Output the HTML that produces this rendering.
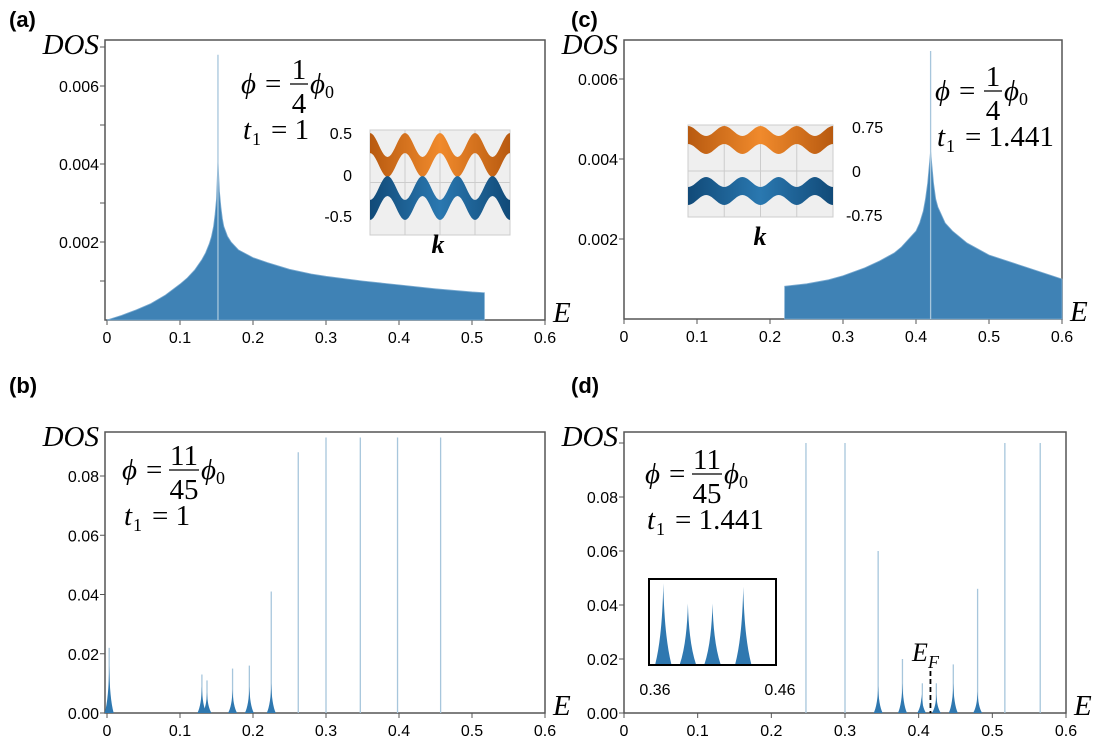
<!DOCTYPE html>
<html><head><meta charset="utf-8">
<style>
body{margin:0;background:#fff;}
svg text{font-family:"Liberation Sans",sans-serif;}
.lab{font-family:"Liberation Sans",sans-serif;font-size:16px;fill:#000;}
.pl{font-family:"Liberation Sans",sans-serif;font-size:22px;font-weight:bold;fill:#000;}
.mth{font-family:"Liberation Serif",serif;font-style:italic;font-size:29px;fill:#000;}
.mthu{font-family:"Liberation Serif",serif;font-size:29px;fill:#000;}
</style></head>
<body>
<svg id="fig" width="1099" height="747" viewBox="0 0 1099 747" xmlns="http://www.w3.org/2000/svg">
<defs>
<linearGradient id="og" x1="0" y1="0" x2="1" y2="0">
<stop offset="0" stop-color="#b85a10"/><stop offset="0.5" stop-color="#f08a2c"/><stop offset="1" stop-color="#b85a10"/></linearGradient>
<linearGradient id="bg" x1="0" y1="0" x2="1" y2="0">
<stop offset="0" stop-color="#114a78"/><stop offset="0.5" stop-color="#2a78b0"/><stop offset="1" stop-color="#114a78"/></linearGradient>
</defs>
<g id="layer"></g>
</svg>
<script>
// Panel (a): phi = 1/4, t1 = 1
const aE   = [0,0.02,0.04,0.06,0.08,0.1,0.11,0.12,0.13,0.135,0.14,0.143,0.146,0.148,0.15,0.151,0.152,0.153,0.154,0.156,0.158,0.16,0.165,0.17,0.18,0.19,0.2,0.22,0.25,0.28,0.3,0.35,0.4,0.45,0.5,0.517];
const aDOS = [0,0.00012,0.00026,0.00042,0.00064,0.00092,0.00108,0.00128,0.00155,0.00172,0.00195,0.00213,0.0024,0.0027,0.0031,0.0036,0.0041,0.0037,0.0033,0.0029,0.0026,0.0024,0.00215,0.002,0.0018,0.0017,0.0016,0.00147,0.0013,0.00118,0.00112,0.001,0.0009,0.0008,0.00072,0.0007];
const aSpikeE = [0.152];
const aSpikeH = [0.0068];
// Panel (c): phi = 1/4, t1 = 1.441
const cE   = [0.22,0.2201,0.25,0.28,0.3,0.33,0.35,0.37,0.38,0.39,0.4,0.405,0.41,0.413,0.416,0.418,0.42,0.422,0.424,0.427,0.43,0.435,0.44,0.45,0.47,0.5,0.55,0.6];
const cDOS = [0,0.00082,0.00088,0.00098,0.00108,0.00128,0.00145,0.00165,0.0018,0.002,0.0022,0.0024,0.0027,0.003,0.0034,0.0038,0.0042,0.0038,0.0034,0.003,0.0028,0.0026,0.0024,0.0022,0.0019,0.0016,0.0013,0.001];
const cSpikeE = [0.42];
const cSpikeH = [0.0067];
// Panel (b): phi = 11/45, t1 = 1
const bSpikeE = [0.225,0.262,0.3,0.347,0.398,0.457,0.003,0.13,0.137,0.172,0.195];
const bSpikeH = [0.041,0.088,0.093,0.093,0.093,0.093,0.022,0.013,0.011,0.015,0.016];
const bBumpE  = [0.003,0.13,0.137,0.172,0.195,0.225];
const bBumpH  = [0.016,0.009,0.007,0.008,0.009,0.01];
// Panel (d): phi = 11/45, t1 = 1.441
const dSpikeE = [0.247,0.3,0.345,0.378,0.405,0.424,0.447,0.48,0.517,0.565];
const dSpikeH = [0.1,0.1,0.06,0.02,0.011,0.011,0.018,0.046,0.1,0.1];
const dBumpE  = [0.345,0.378,0.404,0.424,0.447,0.48];
const dBumpH  = [0.01,0.011,0.007,0.007,0.011,0.008];
const insetE  = [0.37,0.39,0.41,0.435];
const insetH  = [0.048,0.036,0.036,0.046];

const NS="http://www.w3.org/2000/svg";
const L=document.getElementById('layer');
function el(tag,attrs,parent){const e=document.createElementNS(NS,tag);for(const k in attrs)e.setAttribute(k,attrs[k]);(parent||L).appendChild(e);return e;}
function txt(x,y,s,cls,anchor,style){const t=el('text',{x:x,y:y,class:cls,'text-anchor':anchor||'start'});if(style)t.setAttribute('style',style);t.textContent=s;return t;}

function panel(cfg){
  const g=el('g',{});
  
  
  const X=e=>cfg.x0+(e/0.6)*(cfg.x1-cfg.x0);
  const Y=v=>cfg.y0-(v/cfg.ymax)*(cfg.y0-cfg.ytop);
  cfg.X=X;cfg.Y=Y;cfg.g=g;
  const box=el('rect',{x:cfg.bx,y:cfg.by,width:cfg.x1-cfg.bx,height:cfg.y0-cfg.by,fill:'none',stroke:'#555','stroke-width':1.5},g);
  
  for(let i=0;i<=6;i++){const v=i/10;const x=X(v);
    el('line',{x1:x,y1:cfg.y0,x2:x,y2:cfg.y0+5,stroke:'#555'},g);
    const t=txt(x,cfg.y0+23,i==0?'0':v.toFixed(1),'lab','middle');
    
  }
  cfg.yt.forEach((v,i)=>{const y=Y(v);
    el('line',{x1:cfg.bx-5,y1:y,x2:cfg.bx,y2:y,stroke:'#555'},g);
    if(cfg.ylab[i]){const t=txt(cfg.bx-6,y+6,cfg.ylab[i],'lab','end');
      }
  });
  const yl=txt(cfg.bx-6,cfg.by+14,'DOS','mth','end');
  
  const xl=txt(cfg.x1+8,cfg.y0+2,'E','mth','start');
  
  return cfg;
}
function area(p,E,D){
  let d='M'+p.X(E[0])+','+p.Y(0);
  E.forEach((e,i)=>d+=' L'+p.X(e)+','+p.Y(D[i]));
  d+=' L'+p.X(E[E.length-1])+','+p.Y(0)+' Z';
  const a=el('path',{d:d,fill:'#3f82b5',stroke:'#7aaad0','stroke-width':0.8},p.g);
  
}
function spikes(p,E,H,color){
  E.forEach((e,i)=>{const l=el('line',{x1:p.X(e),y1:p.Y(0),x2:p.X(e),y2:p.Y(H[i]),stroke:color||'#a7c6dc','stroke-width':1.3},p.g);
    });
}
function bumps(p,E,H){
  E.forEach((e,i)=>{const x=p.X(e),w=4.5;
    const b=el('path',{d:`M${x-w},${p.Y(0)} Q${x-0.5},${p.Y(H[i]*0.3)} ${x},${p.Y(H[i])} Q${x+0.5},${p.Y(H[i]*0.3)} ${x+w},${p.Y(0)} Z`,fill:'#2f78b0'},p.g);
    });
}
function mathLabel(g,x,y,num,den,t1){
  const a=txt(x,y,'ϕ','mth');txt(x+24,y,'=','mthu');
  const fx=x+(num.length>1?62:58);
  txt(fx,y-14,num,'mthu','middle');el('line',{x1:fx-(num.length>1?15:9),y1:y-9,x2:fx+(num.length>1?15:9),y2:y-9,stroke:'#000','stroke-width':1.3});
  txt(fx,y+20,den,'mthu','middle');
  const px=fx+(num.length>1?17:11);
  txt(px,y,'ϕ','mth');
  txt(px+15,y+5,'0','mthu','start','font-size:18px');
  const t=txt(x+2,y+46,'t','mth');
  txt(x+11,y+52,'1','mthu','start','font-size:18px');
  txt(x+30,y+46,'= '+t1,'mthu');
  [a,t].forEach(e=>{});
}

[['(a)',9,27],['(c)',571,27],['(b)',9,393],['(d)',571,393]].forEach(p=>{const t=txt(p[1],p[2],p[0],'pl');
  });

const pa=panel({name:'panel-a',bx:105,by:40,x0:107,x1:545,y0:320,ytop:242,ymax:0.002,yt:[0.001,0.002,0.003,0.004,0.005,0.006,0.007],ylab:['','0.002','','0.004','','0.006','']});
area(pa,aE,aDOS);spikes(pa,aSpikeE,aSpikeH);
const pc=panel({name:'panel-c',bx:624,by:40,x0:624,x1:1062,y0:319,ytop:239,ymax:0.002,yt:[0.002,0.004,0.006],ylab:['0.002','0.004','0.006']});
area(pc,cE,cDOS);spikes(pc,cSpikeE,cSpikeH);
const pb=panel({name:'panel-b',bx:105,by:432,x0:107,x1:545,y0:713,ytop:476,ymax:0.08,yt:[0,0.02,0.04,0.06,0.08],ylab:['0.00','0.02','0.04','0.06','0.08']});
spikes(pb,bSpikeE,bSpikeH);bumps(pb,bBumpE,bBumpH);
const pd=panel({name:'panel-d',bx:624,by:432,x0:624,x1:1066,y0:713,ytop:497,ymax:0.08,yt:[0,0.02,0.04,0.06,0.08,0.1],ylab:['0.00','0.02','0.04','0.06','0.08','']});
spikes(pd,dSpikeE,dSpikeH);bumps(pd,dBumpE,dBumpH);

mathLabel(pa.g,241,93,'1','4','1');
mathLabel(pc.g,935,100,'1','4','1.441');
mathLabel(pb.g,122,479,'11','45','1');
mathLabel(pd.g,645,483,'11','45','1.441');

const ef=el('line',{x1:pd.X(0.416),y1:671,x2:pd.X(0.416),y2:713,stroke:'#000','stroke-width':1.8,'stroke-dasharray':'5,3'});

txt(912,661,'E','mth','start','font-size:26px');txt(928,668,'F','mth','start','font-size:18px');

const ib=el('rect',{x:649,y:579,width:127,height:86,fill:'#fff',stroke:'#000','stroke-width':2});

const IX=e=>651+(e-0.36)/0.1*(774-651), IY=v=>664-v/0.05*84;
insetE.forEach((e,i)=>{const x=IX(e),h=insetH[i];
  const p=el('path',{d:`M${x-8},664 Q${x-1},${IY(h*0.35)} ${x},${IY(h)} Q${x+1},${IY(h*0.35)} ${x+8},664 Z`,fill:'#2f78b0'});
  });
txt(655,695,'0.36','lab','middle');txt(780,695,'0.46','lab','middle');

function bandInset(name,x,y,w,h,oy,by,amp,n,thick){
  const g=el('g',{});
  el('rect',{x:x,y:y,width:w,height:h,fill:'#efefef',stroke:'#ccc'},g);
  for(let k=1;k<4;k++)el('line',{x1:x+k*w/4,y1:y,x2:x+k*w/4,y2:y+h,stroke:'#ccc'},g);
  el('line',{x1:x,y1:y+h/2,x2:x+w,y2:y+h/2,stroke:'#ccc'},g);
  function band(cy,fill,sgn){let top='',bot='';
    for(let i=0;i<=80;i++){const xx=x+i*w/80,ph=Math.cos(i/80*n*2*Math.PI);
      const c=cy-sgn*amp*ph;
      top+=(i?' L':'M')+xx+','+(c-thick/2);bot=' L'+xx+','+(c+thick/2)+bot;}
    el('path',{d:top+bot+' Z',fill:fill},g);}
  band(oy,'url(#og)',1);band(by,'url(#bg)',-1);
}
bandInset('band-inset-a',370,130,140,105,155,198,12,4,20);
txt(352,139,'0.5','lab','end');txt(352,181,'0','lab','end');txt(352,222,'-0.5','lab','end');
txt(438,253,'k','mth','middle','font-weight:bold;font-size:26px');
bandInset('band-inset-c',688,125,145,92,140,191,5,4,18);
txt(852,133,'0.75','lab','start');txt(852,177,'0','lab','start');txt(846,221,'-0.75','lab','start');
txt(760,245,'k','mth','middle','font-weight:bold;font-size:26px');
</script>
</body></html>
